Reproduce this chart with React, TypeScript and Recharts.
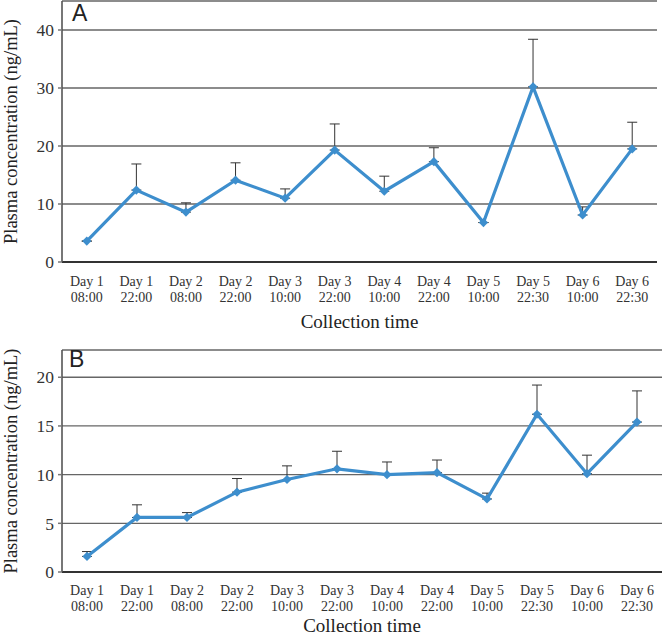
import React from 'react'
import { LineChart, Line, XAxis, YAxis, CartesianGrid, ErrorBar, Label } from 'recharts'

const dayLabels = ['Day 1', 'Day 1', 'Day 2', 'Day 2', 'Day 3', 'Day 3', 'Day 4', 'Day 4', 'Day 5', 'Day 5', 'Day 6', 'Day 6']
const hourLabels = ['08:00', '22:00', '08:00', '22:00', '10:00', '22:00', '10:00', '22:00', '10:00', '22:30', '10:00', '22:30']

// panel A
const meanA = [3.6, 12.4, 8.6, 14.1, 11.0, 19.3, 12.2, 17.3, 6.8, 30.2, 8.1, 19.5]
const sdA = [0, 4.5, 1.6, 3.0, 1.6, 4.5, 2.6, 2.4, 0, 8.2, 1.4, 4.6]
const ticksA = [0, 10, 20, 30, 40]

// panel B
const meanB = [1.6, 5.6, 5.6, 8.2, 9.5, 10.6, 10.0, 10.2, 7.5, 16.2, 10.1, 15.4]
const sdB = [0.5, 1.3, 0.5, 1.4, 1.4, 1.8, 1.3, 1.3, 0.6, 3.0, 1.9, 3.2]
const ticksB = [0, 5, 10, 15, 20]

const boundaries = [0, 1, 2, 3, 4, 5, 6, 7, 8, 9, 10, 11, 12]

const BLUE = '#3d8ecd'
const SERIF = 'Liberation Serif'
const SANS = 'Liberation Sans'

const Diamond = (props: any) => {
  const { cx, cy, index } = props
  if (cx == null || cy == null) return <g key={`d-${index}`} />
  const r = 4.6
  return (
    <polygon
      key={`d-${index}`}
      points={`${cx},${cy - r} ${cx + r},${cy} ${cx},${cy + r} ${cx - r},${cy}`}
      fill={BLUE}
    />
  )
}

type PanelProps = {
  mean: number[]
  sd: number[]
  ticks: number[]
  max: number
  letter: string
  top: number
  height: number
  margin: { top: number; right: number; left: number; bottom: number }
  labHeight: number
  dayDy: number
  titleDy: number
  letterDy: number
  letterDx: number
}

const Panel = ({ mean, sd, ticks, max, letter, top, height, margin, labHeight, dayDy, titleDy, letterDy, letterDx }: PanelProps) => {
  const data = mean.map((v, i) => ({ x: i + 0.5, value: v, err: [0, sd[i]] }))
  const centers = data.map((d) => d.x)

  const TimeTick = (p: any) => {
    const i = Math.floor(p.payload.value)
    return (
      <text x={p.x} y={p.y} textAnchor="middle" style={{ fontFamily: SERIF, fontSize: 14 }} fill="#333">
        <tspan x={p.x} dy={dayDy}>{dayLabels[i]}</tspan>
        <tspan x={p.x} dy={15.5}>{hourLabels[i]}</tspan>
      </text>
    )
  }

  return (
    <div style={{ position: 'absolute', left: 0, top, width: 664, height }}>
      <LineChart width={664} height={height} data={data} margin={margin}>
        <CartesianGrid xAxisId="a" vertical={false} stroke="#666" strokeWidth={1.3} />
        <XAxis
          xAxisId="a"
          type="number"
          dataKey="x"
          domain={[0, 12]}
          ticks={boundaries}
          tick={false}
          tickSize={4}
          tickLine={{ stroke: '#777', strokeWidth: 1.5 }}
          axisLine={{ stroke: '#333', strokeWidth: 2 }}
          height={5}
        />
        <XAxis
          xAxisId="lab"
          type="number"
          dataKey="x"
          domain={[0, 12]}
          ticks={centers}
          interval={0}
          tick={<TimeTick />}
          tickLine={false}
          axisLine={false}
          tickSize={0}
          tickMargin={0}
          height={labHeight}
        >
          <Label
            content={(p: any) => {
              const vb = p.viewBox
              return (
                <text x={vb.x + vb.width / 2} y={vb.y + titleDy} textAnchor="middle" style={{ fontFamily: SERIF, fontSize: 19 }} fill="#222">
                  Collection time
                </text>
              )
            }}
          />
        </XAxis>
        <YAxis
          type="number"
          domain={[0, max]}
          ticks={ticks}
          width={62}
          tickSize={4}
          tickMargin={4}
          tick={{ fontFamily: SERIF, fontSize: 17.5, fill: '#333', style: { fontFamily: SERIF } }}
          tickLine={{ stroke: '#777', strokeWidth: 1.5 }}
          axisLine={{ stroke: '#555', strokeWidth: 1.6 }}
        >
          <Label
            content={(p: any) => {
              const vb = p.viewBox
              return (
                <text
                  transform={`translate(17, ${vb.y + vb.height / 2}) rotate(-90)`}
                  textAnchor="middle"
                  style={{ fontFamily: SERIF, fontSize: 18.5 }}
                  fill="#222"
                >
                  Plasma concentration (ng/mL)
                </text>
              )
            }}
          />
          <Label
            content={(p: any) => {
              const vb = p.viewBox
              return (
                <text x={vb.x + vb.width + letterDx} y={vb.y + letterDy} style={{ fontFamily: SANS, fontSize: 23 }} fill="#222">
                  {letter}
                </text>
              )
            }}
          />
        </YAxis>
        <Line
          xAxisId="a"
          type="linear"
          dataKey="value"
          stroke={BLUE}
          strokeWidth={3.2}
          dot={(p: any) => <Diamond key={`d-${p.index}`} {...p} />}
          activeDot={false}
          isAnimationActive={false}
        >
          <ErrorBar dataKey="err" direction="y" width={5} stroke="#333" strokeWidth={1} isAnimationActive={false} />
        </Line>
      </LineChart>
    </div>
  )
}

export default function App() {
  return (
    <div style={{ position: 'absolute', left: 0, top: 0, width: 664, height: 635, background: '#fff' }}>
      <Panel
        mean={meanA}
        sd={sdA}
        ticks={ticksA}
        max={45}
        letter="A"
        top={0}
        height={332}
        margin={{ top: 1, right: 7, left: 0, bottom: 0 }}
        labHeight={65}
        dayDy={19}
        titleDy={61}
        letterDy={20}
        letterDx={10}
      />
      <Panel
        mean={meanB}
        sd={sdB}
        ticks={ticksB}
        max={22.8}
        letter="B"
        top={330}
        height={305}
        margin={{ top: 20, right: 2, left: 0, bottom: 0 }}
        labHeight={58}
        dayDy={18}
        titleDy={55}
        letterDy={17}
        letterDx={7}
      />
    </div>
  )
}
